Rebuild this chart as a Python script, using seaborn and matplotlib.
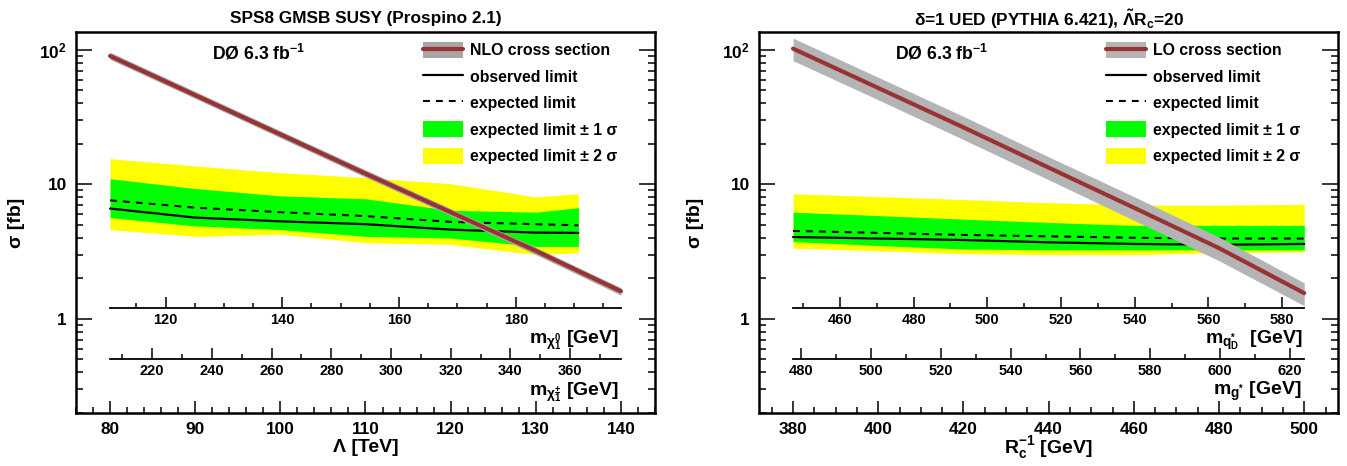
import numpy as np
import pandas as pd
import matplotlib
matplotlib.use('Agg')
import matplotlib.pyplot as plt
import matplotlib.ticker as mticker
from matplotlib.patches import Patch
from matplotlib.lines import Line2D
import seaborn as sns

# ---- left panel: SPS8 GMSB SUSY ----
lam = [80, 90, 100, 110, 120, 130, 135]
obs_l = [6.6, 5.65, 5.3, 5.05, 4.6, 4.37, 4.35]
exp_l = [7.6, 6.7, 6.2, 5.8, 5.25, 5.05, 4.95]
g_dn_l = [5.65, 4.9, 4.6, 4.1, 3.98, 3.45, 3.45]
g_up_l = [11.0, 9.3, 8.2, 7.8, 6.4, 6.2, 6.7]
y_dn_l = [4.6, 4.1, 4.25, 3.68, 3.57, 3.0, 3.1]
y_up_l = [15.5, 13.7, 12.2, 11.2, 10.1, 8.05, 8.5]

lam_xs = [80, 90, 100, 110, 120, 130, 140]
nlo_xs = [90, 46, 23.5, 12.0, 6.2, 3.2, 1.6]
nlo_dn = [85, 43.5, 22.2, 11.3, 5.85, 3.0, 1.5]
nlo_up = [96, 49, 25, 12.8, 6.6, 3.4, 1.7]

# secondary scales: values at lam = 80 and 140
lam_ends = [80, 140]
m_chi0_ends = [110.5, 198.0]
m_chipm_ends = [205.9, 377.0]

# ---- right panel: UED ----
rc = [380, 400, 420, 440, 460, 480, 500]
obs_r = [4.05, 3.95, 3.85, 3.7, 3.6, 3.55, 3.6]
exp_r = [4.5, 4.35, 4.2, 4.1, 4.0, 3.95, 3.95]
g_dn_r = [3.75, 3.5, 3.3, 3.25, 3.25, 3.25, 3.25]
g_up_r = [6.2, 5.85, 5.5, 5.2, 4.95, 4.95, 4.95]
y_dn_r = [3.35, 3.2, 3.05, 3.0, 3.0, 3.1, 3.15]
y_up_r = [8.5, 8.1, 7.7, 7.3, 7.0, 7.0, 7.1]

lo_xs = [102, 52, 26.5, 13.3, 6.7, 3.35, 1.55]
lo_dn = [83, 42.5, 21.5, 10.8, 5.4, 2.7, 1.25]
lo_up = [122, 62.5, 32, 16, 8.1, 4.05, 1.85]

rc_ends = [380, 500]
m_qd_ends = [447.3, 586.0]
m_g_ends = [477.7, 624.1]

ytick_vals = [1, 10, 100]
ytick_labels = ['1', '10', '10$^{2}$']

sns.set_theme(style='ticks')
plt.rcParams['font.family'] = ['Liberation Sans', 'DejaVu Sans']
plt.rcParams['font.weight'] = 'bold'
plt.rcParams['mathtext.default'] = 'regular'
for k in ['text.color', 'axes.labelcolor', 'xtick.color', 'ytick.color', 'axes.edgecolor']:
    plt.rcParams[k] = 'black'
plt.rcParams['axes.linewidth'] = 1.8

RED = '#993333'
GREEN = '#00ff00'
YELLOW = '#ffff00'

fig = plt.figure(figsize=(13.47, 4.66), dpi=100)
axL = fig.add_axes([0.05642, 0.11438, 0.42984, 0.81631])
axR = fig.add_axes([0.56347, 0.11438, 0.43007, 0.81631])


def draw_panel(ax, x, obs, exp, g_dn, g_up, y_dn, y_up, xx, xs, xs_dn, xs_up, grey, xs_name):
    ax.fill_between(x, y_dn, y_up, color=YELLOW, lw=0)
    ax.fill_between(x, g_dn, g_up, color=GREEN, lw=0)
    df = pd.DataFrame({'x': x, 'obs': obs, 'exp': exp})
    sns.lineplot(data=df, x='x', y='exp', ax=ax, color='black', lw=1.5,
                 linestyle=(0, (3.3, 2.9)), legend=False)
    sns.lineplot(data=df, x='x', y='obs', ax=ax, color='black', lw=1.6, legend=False)
    ax.fill_between(xx, xs_dn, xs_up, color=grey, lw=0, zorder=3)
    dxs = pd.DataFrame({'x': xx, 'xs': xs})
    sns.lineplot(data=dxs, x='x', y='xs', ax=ax, color=RED, lw=3, legend=False, zorder=4)
    ax.set_yscale('log')
    ax.set_ylim(0.2, 135)
    ax.yaxis.set_major_locator(mticker.FixedLocator(ytick_vals))
    ax.yaxis.set_major_formatter(mticker.FixedFormatter(ytick_labels))
    ax.yaxis.set_minor_locator(mticker.LogLocator(base=10, subs=np.arange(2, 10), numticks=20))
    ax.yaxis.set_minor_formatter(mticker.NullFormatter())
    ax.tick_params(axis='x', which='major', direction='in', length=8.6, width=1.1,
                   top=False, bottom=True, pad=6.5, labelsize=12.4)
    ax.tick_params(axis='x', which='minor', direction='in', length=4.3, width=1.1,
                   top=False, bottom=True)
    ax.tick_params(axis='y', which='major', direction='in', length=11.3, width=1.1,
                   left=True, right=True, pad=6.7, labelsize=12.4)
    ax.tick_params(axis='y', which='minor', direction='in', length=5.3, width=1.1,
                   left=True, right=True)
    ax.set_xlabel('')
    ax.set_ylabel('')
    handles = [
        (Patch(facecolor=grey, edgecolor='none'), Line2D([], [], color=RED, lw=3)),
        Line2D([], [], color='black', lw=1.6),
        Line2D([], [], color='black', lw=1.5, linestyle=(0, (3.3, 2.9))),
        Patch(facecolor=GREEN, edgecolor='none'),
        Patch(facecolor=YELLOW, edgecolor='none'),
    ]
    labels = [xs_name, 'observed limit', 'expected limit',
              'expected limit ± 1 σ', 'expected limit ± 2 σ']
    ax.legend(handles, labels, loc='upper left', bbox_to_anchor=(0.599, 0.975),
              frameon=False, borderpad=0, borderaxespad=0, fontsize=11.4,
              handlelength=2.53, handleheight=1.2, handletextpad=0.44,
              labelspacing=0.63)
    ax.text(0.235, 0.944, 'DØ 6.3 fb$^{-1}$', transform=ax.transAxes,
            ha='left', va='center', fontsize=12.7)


def add_sub_axis(ax, ends, lim, y0, major, minor, label, label_y):
    x0, x1 = ax.get_xlim()
    f0 = (ends[0] - x0) / (x1 - x0)
    f1 = (ends[1] - x0) / (x1 - x0)
    sub = ax.inset_axes([f0, y0, f1 - f0, 0.001])
    sub.set_xlim(lim)
    sub.set_ylim(0, 1)
    sub.patch.set_visible(False)
    for s in ['top', 'left', 'right']:
        sub.spines[s].set_visible(False)
    sub.spines['bottom'].set_linewidth(1.3)
    sub.set_yticks([])
    majors = np.arange(np.ceil(lim[0] / major) * major, lim[1], major)
    minors = np.arange(np.ceil(lim[0] / minor) * minor, lim[1], minor)
    sub.xaxis.set_major_locator(mticker.FixedLocator(majors))
    sub.xaxis.set_major_formatter(mticker.FormatStrFormatter('%d'))
    sub.xaxis.set_minor_locator(mticker.FixedLocator(minors))
    sub.tick_params(axis='x', which='major', direction='in', length=7.7, width=1.1,
                    pad=3.4, labelsize=10.5, top=False)
    sub.tick_params(axis='x', which='minor', direction='in', length=3.6, width=1.1, top=False)
    ax.text(0.9375, label_y, label, transform=ax.transAxes, ha='right',
            va='baseline', fontsize=14)


draw_panel(axL, lam, obs_l, exp_l, g_dn_l, g_up_l, y_dn_l, y_up_l,
           lam_xs, nlo_xs, nlo_dn, nlo_up, '#a6a6a6', 'NLO cross section')
axL.set_xlim(76, 144)
axL.xaxis.set_major_locator(mticker.MultipleLocator(10))
axL.xaxis.set_minor_locator(mticker.MultipleLocator(2))
add_sub_axis(axL, lam_ends, m_chi0_ends, 0.2752, 20, 5,
             r'm$_{\chi^{0}_{1}}$ [GeV]', 0.1806)
add_sub_axis(axL, lam_ends, m_chipm_ends, 0.1404, 20, 10,
             r'm$_{\chi^{\pm}_{1}}$ [GeV]', 0.0465)
axL.text(0.5, 1.035, 'SPS8 GMSB SUSY (Prospino 2.1)', transform=axL.transAxes,
         ha='center', va='center', fontsize=12.4)

draw_panel(axR, rc, obs_r, exp_r, g_dn_r, g_up_r, y_dn_r, y_up_r,
           rc, lo_xs, lo_dn, lo_up, '#b4b4b4', 'LO cross section')
axR.set_xlim(372, 508)
axR.xaxis.set_major_locator(mticker.MultipleLocator(20))
axR.xaxis.set_minor_locator(mticker.MultipleLocator(5))
add_sub_axis(axR, rc_ends, m_qd_ends, 0.2752, 20, 10,
             r'm$_{q^{*}_{D}}$  [GeV]', 0.1806)
add_sub_axis(axR, rc_ends, m_g_ends, 0.1404, 20, 10,
             r'm$_{g^{*}}$ [GeV]', 0.0465)
axR.text(0.5, 1.035, r'δ=1 UED (PYTHIA 6.421), $\tilde{\Lambda}$R$_{c}$=20',
         transform=axR.transAxes, ha='center', va='center', fontsize=12.4)

for ax, xl, lx in [(axL, r'Λ [TeV]', -0.102), (axR, r'R$_{c}^{-1}$ [GeV]', -0.110)]:
    ax.text(0.5, -0.0915, xl, transform=ax.transAxes, ha='center', va='center', fontsize=14)
    ax.text(lx, 0.5, 'σ [fb]', transform=ax.transAxes, ha='center', va='center',
            rotation=90, fontsize=14)

fig.savefig('out.png', dpi=100)
